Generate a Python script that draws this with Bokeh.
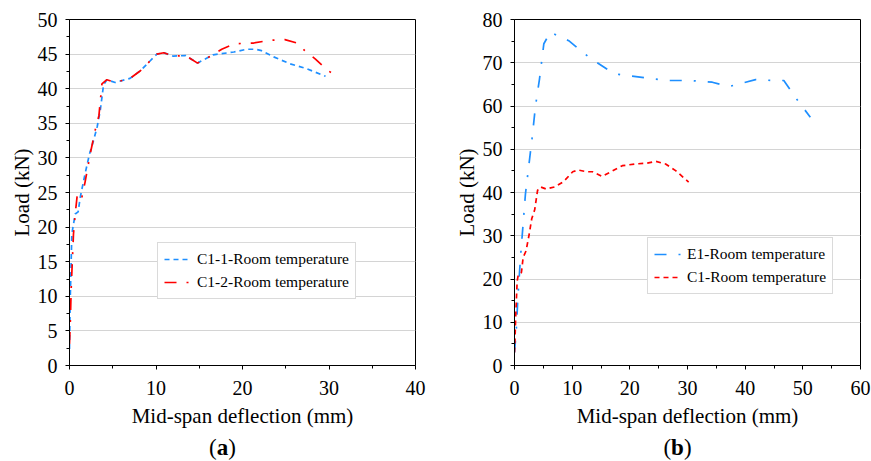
from bokeh.plotting import figure
from bokeh.layouts import row, column
from bokeh.models import Legend, LegendItem, FixedTicker, Div
from bokeh.embed import file_html
from bokeh.resources import INLINE

# ---- data: panel (a) ----
c1_1_x = [0, 0.08, 0.27, 0.66, 1.0, 1.24, 1.8, 2.3, 2.78, 3.2, 3.55, 3.93, 4.32, 5.28, 7.0, 8.2, 10.1, 10.9, 12.0, 13.4, 14.8, 16.6, 19.0, 20.5, 21.5, 22.2, 23.6, 25.5, 27.4, 29.6]
c1_1_y = [2.4, 9.4, 19.0, 21.9, 22.2, 24.3, 27.7, 30.5, 32.5, 34.5, 36.8, 40.5, 41.3, 40.9, 41.5, 42.6, 45.0, 45.2, 44.7, 44.8, 43.7, 44.9, 45.3, 45.7, 45.7, 45.5, 44.6, 43.6, 42.9, 41.8]

c1_2_x = [0, 0.1, 0.2, 0.46, 0.66, 0.9, 1.04, 1.43, 1.8, 2.4, 2.97, 3.4, 3.75, 4.32, 5.28, 7.0, 8.2, 10.1, 10.9, 12.0, 13.4, 14.8, 16.6, 17.6, 19.1, 21.3, 23.2, 24.9, 26.3, 27.2, 28.4, 29.9, 30.3]
c1_2_y = [3.1, 6.5, 11.3, 19.0, 21.9, 24.7, 25.0, 24.3, 26.5, 30.6, 34.0, 36.1, 40.7, 41.3, 40.9, 41.5, 42.6, 45.0, 45.2, 44.7, 44.8, 43.7, 44.9, 45.7, 46.5, 46.6, 47.0, 47.1, 46.6, 45.5, 44.3, 42.6, 42.3]

# ---- data: panel (b) ----
e1_x = [0, 0.3, 0.6, 1.04, 1.9, 3.07, 3.64, 4.34, 5.09, 6.24, 7.4, 9.4, 12.9, 16.4, 18.1, 23.9, 26.8, 30.3, 34.3, 37.2, 41.8, 44.7, 46.7, 48.7, 51.3]
e1_y = [3.0, 8.0, 16.0, 25.0, 39.7, 52.8, 60.0, 66.3, 74.4, 77.1, 76.3, 75.1, 71.3, 68.2, 67.3, 66.3, 65.9, 65.9, 65.5, 64.5, 66.1, 65.9, 65.9, 62.0, 57.4]

c1_x = [0, 0.1, 0.2, 0.46, 0.66, 1.2, 1.5, 2.0, 2.5, 3.0, 3.5, 4.0, 4.5, 5.5, 7.0, 8.5, 10.1, 11.0, 12.5, 13.5, 15.2, 17.0, 18.7, 21.0, 23.0, 24.5, 26.2, 28.0, 30.2]
c1_y = [3.0, 6.5, 11.0, 19.5, 21.0, 21.5, 25.0, 26.5, 30.0, 34.0, 36.0, 40.5, 41.3, 40.8, 41.3, 42.5, 44.8, 45.2, 44.8, 44.8, 43.7, 45.0, 46.2, 46.6, 46.8, 47.2, 46.6, 45.0, 42.4]

xticks_a = [0, 10, 20, 30, 40]
yticks_a = [0, 5, 10, 15, 20, 25, 30, 35, 40, 45, 50]
xticks_b = [0, 10, 20, 30, 40, 50, 60]
yticks_b = [0, 10, 20, 30, 40, 50, 60, 70, 80]

FONT = "Liberation Serif"
BLUE = "#1E8FFF"
RED = "#FF0000"


def style(p, xt, yt, xminor, yminor):
    p.xaxis.ticker = FixedTicker(ticks=xt, minor_ticks=xminor)
    p.yaxis.ticker = FixedTicker(ticks=yt, minor_ticks=yminor)
    for ax in (p.xaxis[0], p.yaxis[0]):
        ax.axis_line_color = "black"
        ax.axis_line_width = 1
        ax.major_tick_line_color = "black"
        ax.minor_tick_line_color = "black"
        ax.major_tick_in = 0
        ax.major_tick_out = 4
        ax.minor_tick_in = 0
        ax.minor_tick_out = 3
        ax.major_label_text_font = FONT
        ax.major_label_text_font_size = "20px"
        ax.major_label_text_color = "black"
        ax.axis_label_text_font = FONT
        ax.axis_label_text_font_size = "21px"
        ax.axis_label_text_font_style = "normal"
        ax.axis_label_text_color = "black"
    p.xaxis.major_label_standoff = 11
    p.yaxis.major_label_standoff = 8
    p.xaxis.axis_label_standoff = 6
    p.yaxis.axis_label_standoff = 1
    p.xgrid.grid_line_color = None
    p.ygrid.grid_line_color = "#d4d4d4"
    p.ygrid.grid_line_width = 1
    p.outline_line_color = "black"
    p.outline_line_width = 1
    p.background_fill_color = "white"
    p.border_fill_color = "white"


def make_legend(p, items, loc):
    lg = Legend(items=items, location=loc)
    lg.label_text_font = FONT
    lg.label_text_font_size = "15.5px"
    lg.label_text_color = "black"
    lg.padding = 6
    lg.spacing = 3
    lg.margin = 0
    lg.label_height = 20
    lg.glyph_height = 20
    lg.glyph_width = 27
    lg.label_standoff = 6
    lg.border_line_color = "#b5b5b5"
    lg.border_line_width = 1
    lg.background_fill_color = "white"
    lg.background_fill_alpha = 1
    p.add_layout(lg)


H = 433
DIV_H = 28


def panel_div(letter, width, pad_left):
    html = ('<div style="width:%dpx;box-sizing:border-box;padding-left:%dpx;position:relative;top:-2px;'
            'text-align:center;font-family:\'Liberation Serif\';font-size:23px;line-height:23px;'
            'color:black;">(<b>%s</b>)</div>' % (width, pad_left, letter))
    return Div(text=html, width=width, height=DIV_H)


# ---- panel (a) ----
pa = figure(width=435, height=H, x_range=(0, 40), y_range=(0, 50),
            output_backend="svg", toolbar_location=None,
            min_border_left=69, min_border_right=20, min_border_top=19, min_border_bottom=H - 365)
style(pa, xticks_a, yticks_a, [5, 15, 25, 35], [2.5 + 5 * i for i in range(10)])
pa.xaxis.axis_label = "Mid-span deflection (mm)"
pa.yaxis.axis_label = "Load (kN)"
ra1 = pa.line(c1_1_x, c1_1_y, line_color=BLUE, line_width=1.7, line_dash="5 4")
ra2 = pa.line(c1_2_x, c1_2_y, line_color=RED, line_width=1.7, line_dash="12 10 2 10")
make_legend(pa, [LegendItem(label="C1-1-Room temperature", renderers=[ra1]),
                 LegendItem(label="C1-2-Room temperature", renderers=[ra2])], (88, 66))

# ---- panel (b) ----
pb = figure(width=436, height=H, x_range=(0, 60), y_range=(0, 80),
            output_backend="svg", toolbar_location=None,
            min_border_left=79, min_border_right=11, min_border_top=19, min_border_bottom=H - 365)
style(pb, xticks_b, yticks_b, [5, 15, 25, 35, 45, 55], [5 + 10 * i for i in range(8)])
pb.xaxis.axis_label = "Mid-span deflection (mm)"
pb.yaxis.axis_label = "Load (kN)"
rb1 = pb.line(e1_x, e1_y, line_color=BLUE, line_width=1.7, line_dash="12 12 2 12")
rb2 = pb.line(c1_x, c1_y, line_color=RED, line_width=1.7, line_dash="5 4")
make_legend(pb, [LegendItem(label="E1-Room temperature", renderers=[rb1]),
                 LegendItem(label="C1-Room temperature", renderers=[rb2])], (133, 71))

layout = column(row(pa, pb), row(panel_div("a", 435, 0), panel_div("b", 436, 19)))
open("out.html", "w").write(file_html(layout, INLINE))
